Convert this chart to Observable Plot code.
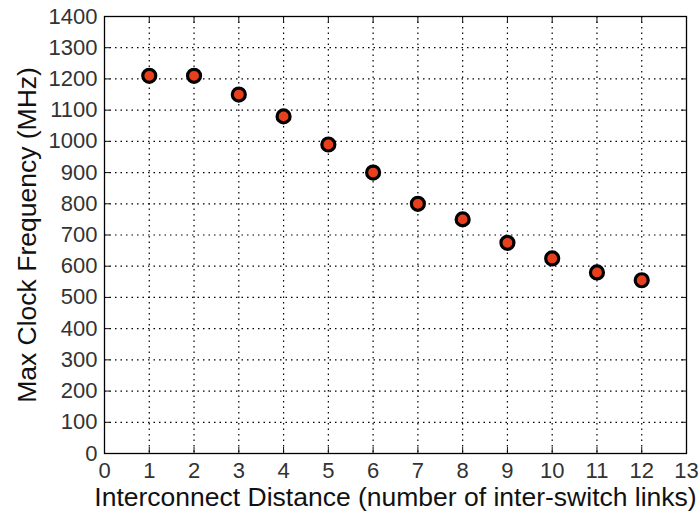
<!DOCTYPE html>
<html><head><meta charset="utf-8">
<script src="https://cdn.jsdelivr.net/npm/d3@7"></script>
<script src="https://cdn.jsdelivr.net/npm/@observablehq/plot@0.6"></script>
<style>
body{margin:0;background:#fff;}
#chart svg{font-family:"Liberation Sans",Arial,sans-serif;}
#chart g[aria-label*="tick label"], #chart g[aria-label*="tick label"] text{font-size:22px !important;}
</style>
</head><body><div id="chart"></div>
<script>
const distance = [1,2,3,4,5,6,7,8,9,10,11,12];
const frequency = [1210,1210,1150,1080,990,900,800,750,675,625,580,555];
const xTicks = [0,1,2,3,4,5,6,7,8,9,10,11,12,13];
const yTicks = [0,100,200,300,400,500,600,700,800,900,1000,1100,1200,1300,1400];
const xLabel = "Interconnect Distance (number of inter-switch links)";
const yLabel = "Max Clock Frequency (MHz)";

const data = distance.map((d,i)=>({d, f: frequency[i]}));
const gridStyle = {stroke:"#000", strokeOpacity:1, strokeWidth:1.2, strokeDasharray:"1.5,4"};
const blank = () => "";

const chart = Plot.plot({
  width: 700, height: 514,
  marginLeft: 104, marginRight: 14, marginTop: 16, marginBottom: 61,
  style: {fontSize: "22px", color: "#111", fontFamily: '"Liberation Sans",Arial,sans-serif', background:"#fff"},
  x: {domain:[0,13], ticks: xTicks},
  y: {domain:[0,1400], ticks: yTicks},
  marks: [
    Plot.gridX(xTicks.slice(1,-1), {...gridStyle}),
    Plot.gridY(yTicks.slice(1,-1), {...gridStyle}),
    Plot.axisX(xTicks, {anchor:"bottom", tickSize:-6, tickPadding:15, label:null, fontSize:22, fill:"#333", tickFormat:"d"}),
    Plot.axisX(xTicks, {anchor:"top", tickSize:-6, tickFormat:blank, label:null}),
    Plot.axisY(yTicks, {anchor:"left", tickSize:-6, tickPadding:13, label:null, fontSize:22, fill:"#333", tickFormat:"d"}),
    Plot.axisY(yTicks, {anchor:"right", tickSize:-6, tickFormat:blank, label:null}),
    Plot.frame({stroke:"#000", strokeWidth:1.3}),
    Plot.dot(data, {x:"d", y:"f", r:6.5, fill:"#e8401c", stroke:"#000", strokeWidth:3.2}),
    Plot.text([xLabel], {frameAnchor:"bottom", lineAnchor:"middle", dy:44, fontSize:26.5, fill:"#111"}),
    Plot.text([yLabel], {frameAnchor:"left", textAnchor:"middle", lineAnchor:"middle", dx:-77, rotate:-90, fontSize:26.5, fill:"#111"})
  ]
});
document.getElementById("chart").appendChild(chart);
</script>
</body></html>
